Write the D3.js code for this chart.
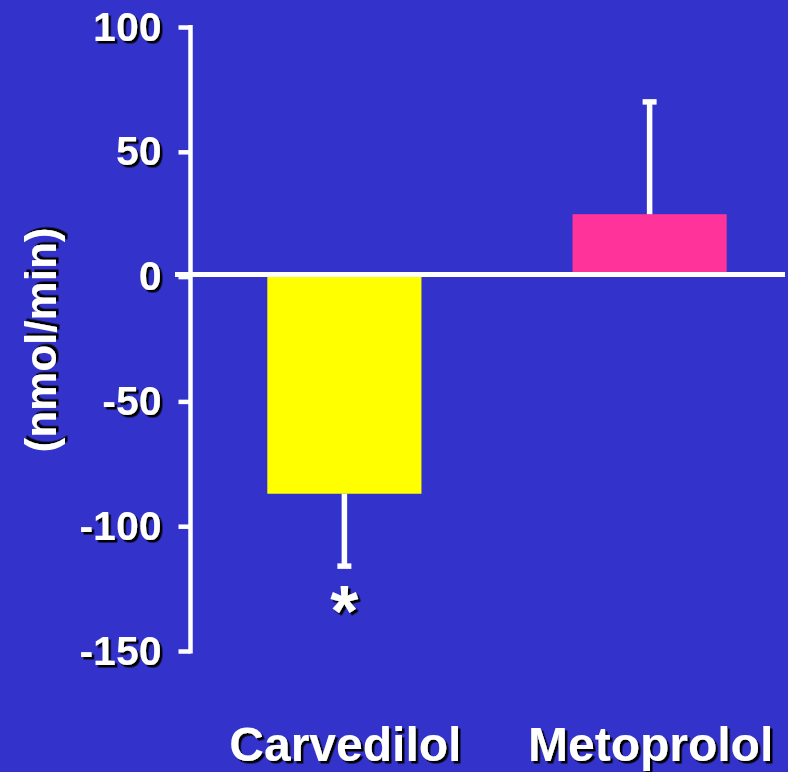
<!DOCTYPE html>
<html>
<head>
<meta charset="utf-8">
<script src="https://cdn.jsdelivr.net/npm/d3@7"></script>
<style>
  html, body { margin: 0; padding: 0; background: #3333cc; }
  svg { display: block; }
  text { font-family: "Liberation Sans", Arial, sans-serif; font-weight: bold; fill: #fff; }
</style>
</head>
<body>
<div id="chart"></div>
<script>
// change in flow (nmol/min), carvedilol vs metoprolol
const drugs = ['Carvedilol', 'Metoprolol'];
const means = [-87, 25];
const errors = [29, 45];
const barColors = ['#ffff00', '#ff3399'];
const yTicks = [100, 50, 0, -50, -100, -150];
const marks = ['*', ''];

const W = 788, H = 772;
const svg = d3.select('#chart').append('svg').attr('width', W).attr('height', H);

// hard black drop shadow used on all text
const defs = svg.append('defs');
defs.append('filter').attr('id', 'shadow')
  .attr('x', '-10%').attr('y', '-10%').attr('width', '130%').attr('height', '130%')
  .append('feDropShadow')
  .attr('dx', 2.5).attr('dy', 2.5).attr('stdDeviation', 0.4)
  .attr('flood-color', '#000').attr('flood-opacity', 1);

svg.append('rect').attr('width', W).attr('height', H).attr('fill', '#3333cc');

const y = d3.scaleLinear().domain([100, -150]).range([27, 651]);
const x = d3.scaleBand().domain(drugs).range([191, 803])
  .paddingInner(0.495).paddingOuter(0.25);

const axisX = 190.5;

// y axis (plain hyphen for negatives, like the slide)
const yAxis = svg.append('g').attr('transform', `translate(${axisX},0)`)
  .call(d3.axisLeft(y).tickValues(yTicks).tickFormat(d => String(d))
    .tickSize(12).tickPadding(17).tickSizeOuter(0));
yAxis.select('.domain').remove();
yAxis.selectAll('.tick line').attr('stroke', '#fff').attr('stroke-width', 4.5);
yAxis.selectAll('.tick text')
  .attr('font-size', 41).attr('fill', '#fff')
  .attr('font-family', '"Liberation Sans", Arial, sans-serif').attr('font-weight', 'bold')
  .attr('filter', 'url(#shadow)');
yAxis.append('line')
  .attr('x1', 0).attr('x2', 0)
  .attr('y1', y(100) - 2).attr('y2', y(-150) + 2.5)
  .attr('stroke', '#fff').attr('stroke-width', 4.5);

// bars
svg.append('g').selectAll('rect').data(drugs).join('rect')
  .attr('x', d => x(d))
  .attr('width', x.bandwidth())
  .attr('y', (d, i) => y(Math.max(0, means[i])))
  .attr('height', (d, i) => Math.abs(y(means[i]) - y(0)))
  .attr('fill', (d, i) => barColors[i]);

// error bars (one-sided, away from zero)
const eb = svg.append('g');
drugs.forEach((d, i) => {
  const cx = x(d) + x.bandwidth() / 2;
  const end = means[i] + Math.sign(means[i]) * errors[i];
  eb.append('line')
    .attr('x1', cx).attr('x2', cx)
    .attr('y1', y(means[i])).attr('y2', y(end))
    .attr('stroke', '#fff').attr('stroke-width', 5.5);
  eb.append('line')
    .attr('x1', cx - 7).attr('x2', cx + 7)
    .attr('y1', y(end)).attr('y2', y(end))
    .attr('stroke', '#fff').attr('stroke-width', 5.5);
  if (marks[i]) {
    svg.append('text')
      .attr('x', cx).attr('y', y(end) + 70)
      .attr('text-anchor', 'middle').attr('font-size', 72)
      .attr('filter', 'url(#shadow)')
      .text(marks[i]);
  }
});

// zero line
svg.append('line')
  .attr('x1', 175).attr('x2', 785)
  .attr('y1', y(0) - 2).attr('y2', y(0) - 2)
  .attr('stroke', '#fff').attr('stroke-width', 5);

// category labels
svg.append('g').selectAll('text').data(drugs).join('text')
  .attr('x', d => x(d) + x.bandwidth() / 2 + 1)
  .attr('y', 761)
  .attr('text-anchor', 'middle')
  .attr('font-size', 48)
  .attr('filter', 'url(#shadow)')
  .text(d => d);

// y title
svg.append('text')
  .attr('transform', 'translate(56,340) rotate(-90)')
  .attr('text-anchor', 'middle')
  .attr('font-size', 44)
  .attr('filter', 'url(#shadow)')
  .text('(nmol/min)');
</script>
</body>
</html>
